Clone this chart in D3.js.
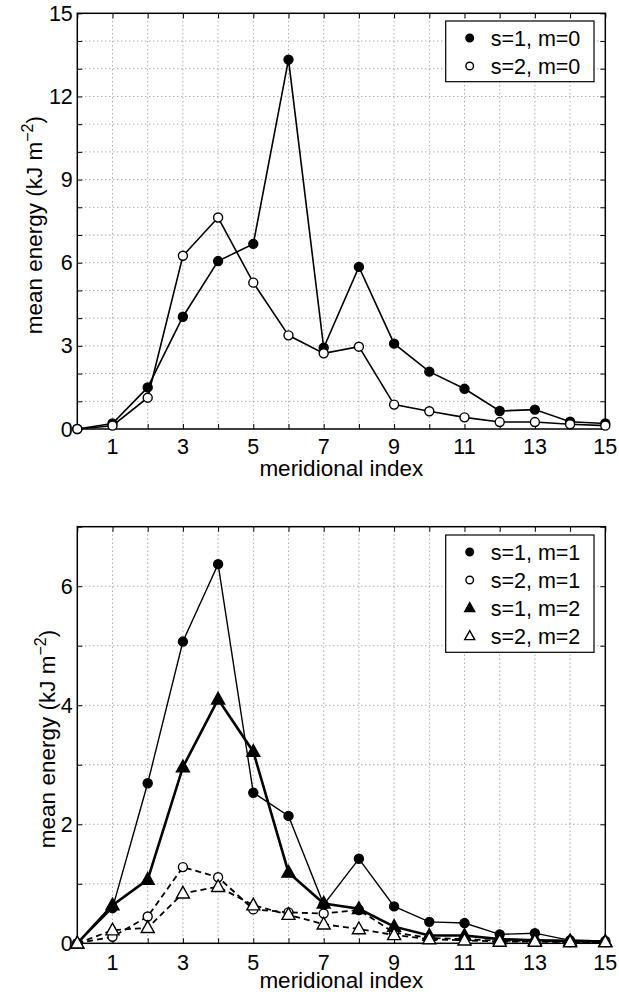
<!DOCTYPE html>
<html>
<head>
<meta charset="utf-8">
<script src="https://cdn.jsdelivr.net/npm/d3@7"></script>
<style>
  html, body { margin: 0; padding: 0; background: #fff; }
  svg { display: block; }
  text { font-family: "Liberation Sans", Arial, Helvetica, sans-serif; fill: #000; }
</style>
</head>
<body>
<svg id="fig" width="619" height="997"></svg>
<script>
// Meridional index 0..15
const meridionalIndex = d3.range(0, 16);

// Upper panel, m = 0
const s1m0 = [0, 0.2, 1.5, 4.05, 6.06, 6.68, 13.33, 2.93, 5.85, 3.08, 2.07, 1.45, 0.65, 0.7, 0.26, 0.2];
const s2m0 = [0, 0.12, 1.13, 6.25, 7.63, 5.28, 3.38, 2.73, 2.97, 0.88, 0.64, 0.42, 0.25, 0.25, 0.17, 0.12];

// Lower panel, m = 1 and m = 2
const s1m1 = [0, 0.59, 2.69, 5.07, 6.37, 2.53, 2.14, 0.65, 1.42, 0.62, 0.36, 0.34, 0.15, 0.17, 0.05, 0.04];
const s2m1 = [0, 0.11, 0.45, 1.28, 1.11, 0.57, 0.52, 0.5, 0.56, 0.18, 0.09, 0.07, 0.04, 0.04, 0.02, 0.02];
const s1m2 = [0, 0.64, 1.07, 2.96, 4.1, 3.22, 1.19, 0.67, 0.58, 0.28, 0.13, 0.13, 0.07, 0.05, 0.04, 0.03];
const s2m2 = [0, 0.22, 0.26, 0.84, 0.95, 0.64, 0.48, 0.32, 0.24, 0.14, 0.07, 0.05, 0.03, 0.03, 0.02, 0.02];

// Tick labels
const xTickLabels = [1, 3, 5, 7, 9, 11, 13, 15];
const yTickLabelsTop = [0, 3, 6, 9, 12, 15];
const yTickLabelsBottom = [0, 2, 4, 6];

const xLabel = "meridional index";

const svg = d3.select("#fig");

function drawPanel(cfg) {
  const { left, right, top, bottom, yMax, yLabels, series, legend, xTickDy, xTitleDy, yTitleDx } = cfg;
  const g = svg.append("g");
  const x = d3.scaleLinear().domain([0, 15]).range([left, right]);
  const y = d3.scaleLinear().domain([0, yMax]).range([bottom, top]);

  // dotted grid at every integer
  const xs = d3.range(1, 15);
  const ys = d3.range(1, yMax);
  g.append("g").selectAll("line").data(xs).join("line")
    .attr("x1", d => x(d)).attr("x2", d => x(d))
    .attr("y1", top).attr("y2", bottom)
    .attr("stroke", "#666").attr("stroke-width", 0.8).attr("stroke-dasharray", "1,3");
  g.append("g").selectAll("line").data(ys).join("line")
    .attr("x1", left).attr("x2", right)
    .attr("y1", d => y(d)).attr("y2", d => y(d))
    .attr("stroke", "#666").attr("stroke-width", 0.8).attr("stroke-dasharray", "1,3");

  // inward tick marks on all four sides
  const tickLen = 5;
  const xAxisB = d3.axisBottom(x).tickValues(d3.range(0, 16)).tickSize(-tickLen).tickFormat("");
  const xAxisT = d3.axisTop(x).tickValues(d3.range(0, 16)).tickSize(-tickLen).tickFormat("");
  const yAxisL = d3.axisLeft(y).tickValues(d3.range(0, yMax + 1)).tickSize(-tickLen).tickFormat("");
  const yAxisR = d3.axisRight(y).tickValues(d3.range(0, yMax + 1)).tickSize(-tickLen).tickFormat("");
  [[xAxisB, `translate(0,${bottom})`], [xAxisT, `translate(0,${top})`],
   [yAxisL, `translate(${left},0)`], [yAxisR, `translate(${right},0)`]].forEach(([ax, tr]) => {
    const a = g.append("g").attr("transform", tr).call(ax);
    a.select(".domain").remove();
    a.selectAll("line").attr("stroke", "#000").attr("stroke-width", 1);
  });

  // box
  g.append("rect").attr("x", left).attr("y", top)
    .attr("width", right - left).attr("height", bottom - top)
    .attr("fill", "none").attr("stroke", "#000").attr("stroke-width", 1.5);

  // tick labels
  g.append("g").selectAll("text").data(xTickLabels).join("text")
    .attr("x", d => x(d)).attr("y", bottom + xTickDy)
    .attr("text-anchor", "middle").attr("font-size", 21.5).text(d => d);
  g.append("g").selectAll("text").data(yLabels).join("text")
    .attr("x", left - 4.5).attr("y", d => y(d) + 7.5)
    .attr("text-anchor", "end").attr("font-size", 21.5).text(d => d);

  // axis titles
  g.append("text").attr("x", (left + right) / 2).attr("y", bottom + xTitleDy)
    .attr("text-anchor", "middle").attr("font-size", 22.5).text(xLabel);
  const yt = g.append("text")
    .attr("transform", `translate(${left - yTitleDx},${(top + bottom) / 2 + 4}) rotate(-90)`)
    .attr("text-anchor", "middle").attr("font-size", 22.5);
  yt.append("tspan").text("mean energy (kJ m");
  yt.append("tspan").attr("dy", -9).attr("font-size", 16).text("\u22122");
  yt.append("tspan").attr("dy", 9).text(")");

  // series
  series.forEach(s => {
    const pts = meridionalIndex.map((i, k) => [i, s.values[k]]);
    g.append("path").datum(pts)
      .attr("d", d3.line().x(d => x(d[0])).y(d => y(d[1])))
      .attr("fill", "none").attr("stroke", "#000")
      .attr("stroke-width", s.width)
      .attr("stroke-dasharray", s.dash || null)
      .attr("stroke-linejoin", "miter");
    const mk = g.append("g");
    pts.forEach(p => drawMarker(mk, s.marker, x(p[0]), y(p[1]), s.size));
  });

  // legend
  const lg = g.append("g");
  lg.append("rect").attr("x", legend.x).attr("y", legend.y)
    .attr("width", legend.w).attr("height", legend.h)
    .attr("fill", "#fff").attr("stroke", "#000").attr("stroke-width", 1.2);
  series.forEach((s, k) => {
    const cy = legend.y + 17 + k * 28;
    drawMarker(lg, s.marker, legend.x + 24, cy, s.marker.startsWith("tri") ? 10 : 3.8);
    lg.append("text").attr("x", legend.x + 45).attr("y", cy + 7.5)
      .attr("font-size", 21.5).text(s.name);
  });
}

function drawMarker(g, type, cx, cy, size) {
  if (type === "dot" || type === "ring") {
    g.append("circle").attr("cx", cx).attr("cy", cy).attr("r", size)
      .attr("fill", type === "dot" ? "#000" : "#fff")
      .attr("stroke", "#000").attr("stroke-width", 1.4);
  } else {
    const h = size * 0.9;
    const w = size / 2;
    const p = `M${cx},${cy - h * 0.6}L${cx + w},${cy + h * 0.4}L${cx - w},${cy + h * 0.4}Z`;
    g.append("path").attr("d", p)
      .attr("fill", type === "triFill" ? "#000" : "#fff")
      .attr("stroke", "#000").attr("stroke-width", 1.4).attr("stroke-linejoin", "miter");
  }
}

drawPanel({
  left: 77.3, right: 605.3, top: 13.3, bottom: 429,
  yMax: 15, yLabels: yTickLabelsTop,
  xTickDy: 24.5, xTitleDy: 47, yTitleDx: 35.5,
  series: [
    { name: "s=1, m=0", values: s1m0, marker: "dot", size: 4.5, width: 1.6 },
    { name: "s=2, m=0", values: s2m0, marker: "ring", size: 4.5, width: 1.6 }
  ],
  legend: { x: 445.7, y: 21, w: 148.3, h: 60.7 }
});

drawPanel({
  left: 77.3, right: 605.3, top: 526.7, bottom: 943.3,
  yMax: 7, yLabels: yTickLabelsBottom,
  xTickDy: 26.5, xTitleDy: 45, yTitleDx: 22.5,
  series: [
    { name: "s=1, m=1", values: s1m1, marker: "dot", size: 4.5, width: 1.4 },
    { name: "s=2, m=1", values: s2m1, marker: "ring", size: 4.5, width: 1.8, dash: "6,4" },
    { name: "s=1, m=2", values: s1m2, marker: "triFill", size: 13, width: 2.6 },
    { name: "s=2, m=2", values: s2m2, marker: "triOpen", size: 13, width: 1.8, dash: "6,4" }
  ],
  legend: { x: 445.7, y: 535, w: 148.3, h: 117.3 }
});
</script>
</body>
</html>
